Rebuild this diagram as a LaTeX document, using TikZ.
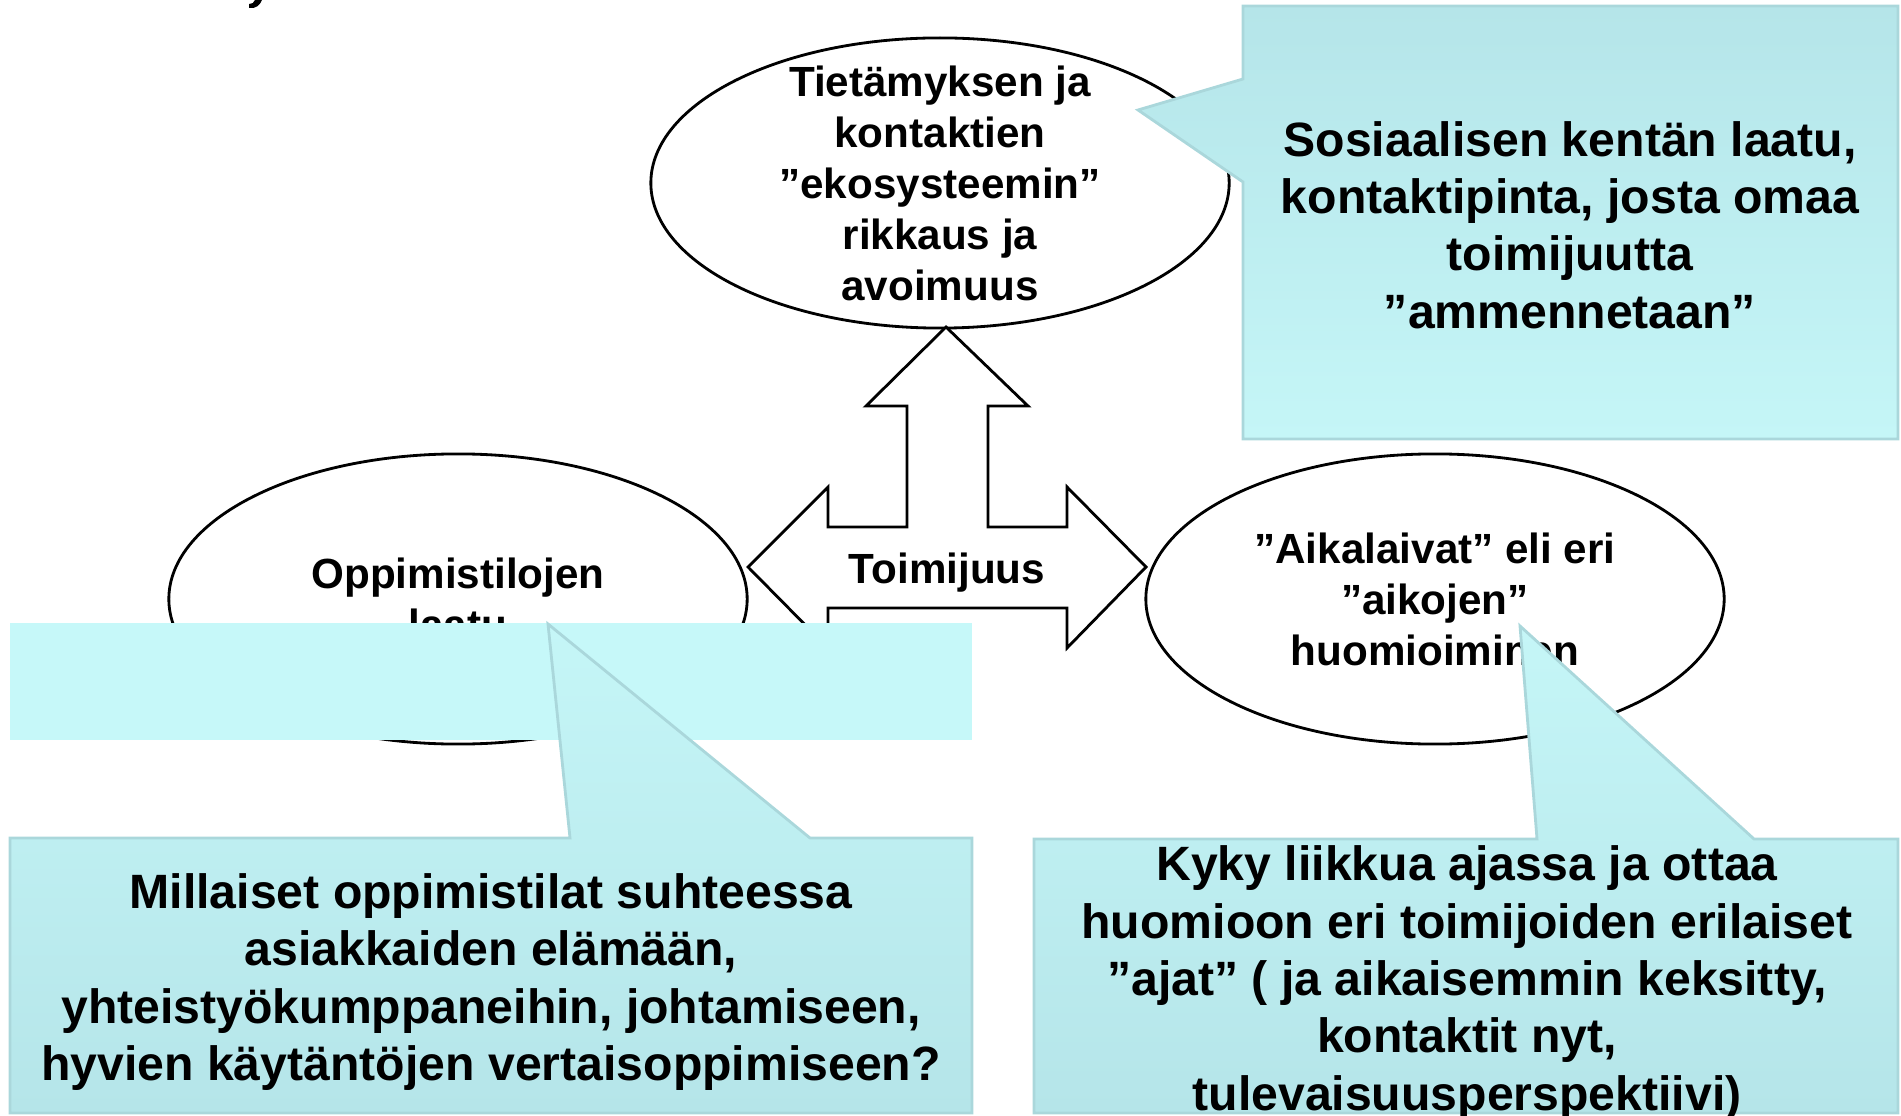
\documentclass[tikz,border=0pt]{standalone}
\usepackage{fontspec}
\setmainfont{Liberation Sans}
\definecolor{puhetumma}{HTML}{B5E5E9}
\definecolor{puhevaalea}{HTML}{C5F6F7}
\definecolor{puhereuna}{HTML}{AAD7DB}
\definecolor{kaistavari}{HTML}{C6F8F9}
\begin{document}
\begin{tikzpicture}[x=0.01cm,y=-0.01cm,
  soikio/.style={align=center, font=\bfseries\fontsize{12}{14.5}\selectfont},
  reuna/.style={thick, x radius=2.89cm, y radius=1.45cm},
  puheylos/.style={draw=puhereuna, line width=0.8pt, top color=puhetumma, bottom color=puhevaalea},
  puhealas/.style={draw=puhereuna, line width=0.8pt, top color=puhevaalea, bottom color=puhetumma},
  puheteksti/.style={align=center, font=\bfseries\fontsize{13.7}{16.3}\selectfont}]
\useasboundingbox (0,0) rectangle (1901,1116);

% otsikon jaanne
\fill (249,8) .. controls (256,9) and (260,5) .. (262,0) -- (255,0) .. controls (254,3) and (252,4) .. (249,4) -- cycle;

% soikiot
\node[soikio] (Tieto) at (940,183) {Tietämyksen ja\\kontaktien\\”ekosysteemin”\\rikkaus ja\\avoimuus};
\node[soikio] (Oppi) at (458,599) {Oppimistilojen\\laatu};
\node[soikio] (Aika) at (1435,599) {”Aikalaivat” eli eri\\”aikojen”\\huomioiminen};
\draw[reuna] (Tieto.center) ellipse [];
\draw[reuna] (Oppi.center) ellipse [];
\draw[reuna] (Aika.center) ellipse [];

% nuoli
\draw[thick, fill=white] (946,327) -- (1028,406) -- (988,406) -- (988,527) -- (1067,527)
  -- (1067,487) -- (1146,567) -- (1067,648) -- (1067,608) -- (828,608) -- (828,648)
  -- (748,567) -- (828,487) -- (828,527) -- (907,527) -- (907,406) -- (866,406) -- cycle;
\node[font=\bfseries\fontsize{12}{14.5}\selectfont] (Toim) at (947,573) {Toimijuus};

% puhekuplat
\fill[kaistavari] (10,623) rectangle (972,740);
\shade[puhealas] (548,624) -- (810,838) -- (972,838) -- (972,1113) -- (10,1113) -- (10,838)
  -- (570,838) -- cycle;
\node[puheteksti] (Mill) at (491,982) {Millaiset oppimistilat suhteessa\\asiakkaiden elämään,\\yhteistyökumppaneihin, johtamiseen,\\hyvien käytäntöjen vertaisoppimiseen?};

\shade[puheylos] (1243,6) -- (1898,6) -- (1898,439) -- (1243,439) -- (1243,182) -- (1138,110)
  -- (1243,79) -- cycle;
\node[puheteksti] (Sos) at (1570,225) {Sosiaalisen kentän laatu,\\kontaktipinta, josta omaa\\toimijuutta\\”ammennetaan”};

\shade[puhealas] (1520,626) -- (1754,839) -- (1898,839) -- (1898,1113) -- (1034,1113) -- (1034,839)
  -- (1537,839) -- cycle;
\node[puheteksti] (Kyky) at (1467,983) {Kyky liikkua ajassa ja ottaa\\huomioon eri toimijoiden erilaiset\\”ajat” ( ja aikaisemmin keksitty,\\kontaktit nyt,\\tulevaisuusperspektiivi)};
\end{tikzpicture}
\end{document}
